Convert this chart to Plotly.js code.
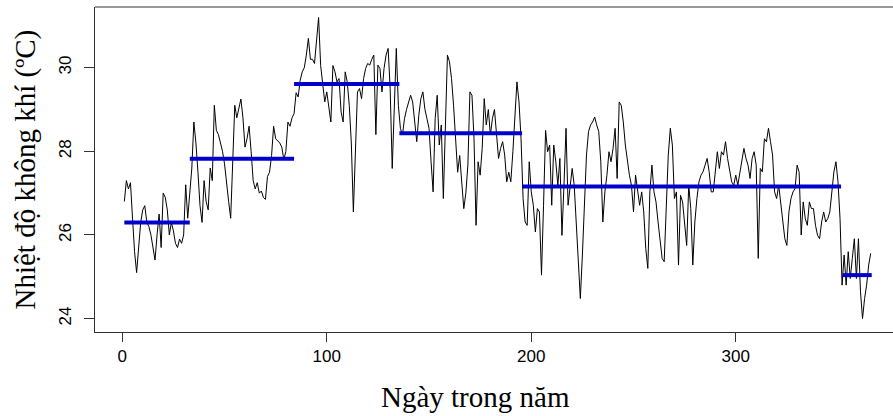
<!DOCTYPE html>
<html>
<head>
<meta charset="utf-8">
<script src="https://cdn.plot.ly/plotly-3.0.1.min.js"></script>
<style>
  html, body { margin: 0; padding: 0; background: #fff; overflow: hidden; }
  #chart { width: 893px; height: 416px; }
</style>
</head>
<body>
<div id="chart"></div>
<script>
// Daily air temperature (°C), day 1 .. 366
const temperature = [
  26.8, 27.3, 27.1, 27.25, 26.4, 25.6, 25.1, 25.7, 26.3, 26.6,
  26.7, 26.3, 26.2, 26.0, 25.7, 25.4, 26.0, 26.5, 25.7, 27.0,
  26.9, 26.6, 26.0, 26.3, 26.1, 25.8, 25.7, 25.9, 25.8, 26.0,
  27.2, 26.4, 27.0, 27.6, 28.7, 28.2, 27.5, 26.7, 26.3, 27.3,
  26.8, 26.6, 27.6, 27.3, 29.1, 28.5, 28.4, 28.2, 28.0, 27.7,
  27.2, 26.8, 26.4, 27.6, 29.1, 28.8, 29.0, 29.25, 28.8, 28.1,
  28.3, 28.6, 28.0, 27.3, 27.1, 27.25, 27.0, 27.05, 26.9, 26.85,
  27.4, 27.5, 27.9, 28.6, 28.3, 28.25, 28.2, 28.1, 27.8, 28.0,
  28.7, 28.6, 28.8, 28.9, 29.4, 29.3, 29.7, 29.9, 30.0, 30.3,
  30.7, 30.2, 30.2, 30.1, 30.7, 31.2, 30.05, 29.66, 29.18, 29.42,
  29.0, 28.7, 30.05, 29.9, 29.66, 29.74, 28.94, 28.7, 29.9, 29.66,
  29.1, 28.2, 26.55, 28.07, 29.42, 29.5, 29.26, 29.74, 29.98, 30.1,
  30.06, 30.2, 30.3, 28.4, 30.06, 29.98, 29.42, 29.98, 30.3, 30.46,
  29.5, 27.59, 29.1, 30.46, 29.1, 28.55, 28.39, 28.78, 29.0, 29.18,
  29.34, 29.18, 28.7, 28.23, 28.86, 29.26, 29.42, 29.0, 28.78, 28.55,
  27.75, 27.03, 28.78, 29.34, 28.15, 28.63, 26.87, 28.86, 30.3, 30.14,
  29.74, 29.1, 28.2, 27.5, 27.9, 27.27, 26.63, 27.0, 27.67, 29.42,
  29.34, 28.3, 26.23, 27.75, 27.43, 28.07, 29.26, 28.63, 29.0, 28.39,
  28.78, 29.0, 28.39, 27.83, 28.07, 28.23, 27.91, 27.27, 27.5, 27.27,
  27.99, 29.0, 29.66, 29.18, 28.3, 26.87, 26.31, 26.23, 27.75, 27.03,
  26.71, 26.07, 26.63, 26.55, 25.04, 26.71, 28.5, 27.99, 28.15, 26.71,
  28.15, 27.75, 27.19, 27.83, 25.99, 27.19, 28.55, 26.71, 27.11, 27.59,
  27.19, 26.31, 25.44, 24.48, 25.52, 26.71, 27.91, 28.47, 28.63, 28.7,
  28.82, 28.63, 28.47, 27.75, 26.31, 27.03, 27.43, 27.99, 27.75, 28.07,
  28.55, 27.35, 29.18, 29.1, 28.7, 28.15, 27.75, 27.43, 27.19, 26.55,
  27.43, 27.03, 26.71, 27.03, 26.55, 25.67, 25.2, 27.03, 27.67, 27.03,
  26.79, 26.31, 25.91, 25.44, 25.36, 26.55, 27.91, 28.55, 28.15, 26.87,
  27.03, 25.28, 26.95, 26.79, 26.31, 25.75, 27.19, 26.63, 25.28, 26.31,
  26.87, 27.27, 27.43, 27.51, 27.67, 27.83, 27.51, 27.03, 27.03, 27.59,
  27.99, 27.59, 27.99, 27.91, 28.23, 27.83, 27.51, 27.27, 27.19, 27.43,
  27.19, 27.51, 27.83, 28.07, 27.83, 27.67, 27.35, 27.83, 27.99, 27.67,
  25.44, 27.59, 27.51, 28.3, 28.23, 28.55, 28.23, 27.91, 27.03, 26.87,
  27.19, 26.71, 26.31, 25.91, 25.75, 26.55, 26.87, 27.03, 27.11, 27.67,
  27.5, 26.0, 26.79, 26.39, 26.23, 26.79, 26.63, 26.63, 26.23, 25.99,
  25.91, 26.31, 26.55, 26.31, 26.39, 26.55, 27.03, 27.51, 27.75, 27.27,
  26.39, 24.8, 25.52, 24.8, 25.6, 24.96, 25.44, 25.91, 24.96, 25.91,
  24.64, 24.0, 24.48, 24.8, 25.28, 25.56
];

// Segment means (change-point levels)
const segStart = [1, 33, 84, 135.5, 195.5, 352.3];
const segEnd   = [33, 84, 135.5, 195.5, 351.5, 366.5];
const segMean  = [26.30, 27.82, 29.61, 28.43, 27.16, 25.04];

const xTicks = [0, 100, 200, 300];
const yTicks = [24, 26, 28, 30];

const days = temperature.map((_, i) => i + 1);

const segX = [], segY = [];
segStart.forEach((s, i) => {
  segX.push(s, segEnd[i], null);
  segY.push(segMean[i], segMean[i], null);
});

const traces = [
  {
    x: days, y: temperature, type: 'scatter', mode: 'lines',
    line: { color: '#000000', width: 1 }, hoverinfo: 'x+y'
  },
  {
    x: segX, y: segY, type: 'scatter', mode: 'lines',
    line: { color: '#0000CC', width: 4 }, connectgaps: false
  }
];

const tickFont = { family: 'Liberation Sans, Arial, sans-serif', size: 17, color: '#000' };
const titleFont = { family: 'Liberation Serif, Times New Roman, serif', size: 29, color: '#000' };

const layout = {
  width: 893, height: 416,
  margin: { l: 95, r: 0, t: 7, b: 84 },
  paper_bgcolor: '#fff', plot_bgcolor: '#fff',
  showlegend: false,
  xaxis: {
    range: [-13.35, 376.9],
    tickvals: xTicks, ticktext: xTicks.map(String),
    ticks: 'outside', ticklen: 9, tickwidth: 1, tickcolor: '#333',
    showline: true, linecolor: '#333', linewidth: 1,
    showgrid: false, zeroline: false,
    tickfont: tickFont
  },
  yaxis: {
    range: [23.68, 31.45],
    tickvals: yTicks, ticktext: yTicks.map(String),
    tickangle: -90,
    ticks: 'outside', ticklen: 10, tickwidth: 1, tickcolor: '#333',
    showline: true, linecolor: '#333', linewidth: 1,
    showgrid: false, zeroline: false,
    tickfont: tickFont,
    ticklabelstandoff: 6
  },
  shapes: [
    { type: 'line', xref: 'paper', yref: 'paper', x0: 0, x1: 1, y0: 1, y1: 1,
      line: { color: '#333', width: 1 } }
  ],
  annotations: [
    { text: 'Ngày trong năm', xref: 'paper', yref: 'paper',
      x: (475 - 95) / 798, y: -(397 - 332) / 325,
      xanchor: 'center', yanchor: 'middle', showarrow: false, font: titleFont },
    { text: 'Nhiệt độ không khí (ºC)', xref: 'paper', yref: 'paper',
      x: (25 - 95) / 798, y: 0.5, textangle: -90,
      xanchor: 'center', yanchor: 'middle', showarrow: false, font: titleFont }
  ]
};

Plotly.newPlot('chart', traces, layout, { displayModeBar: false, staticPlot: true });
</script>
</body>
</html>
